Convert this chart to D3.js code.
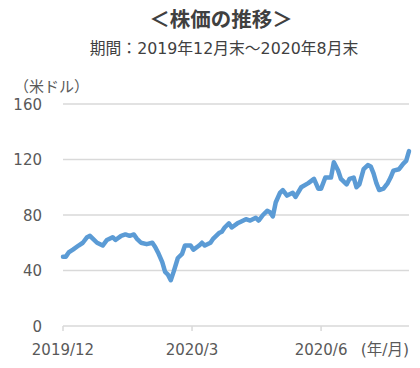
<!DOCTYPE html>
<html><head><meta charset="utf-8">
<script src="https://cdn.jsdelivr.net/npm/d3@7"></script>
<style>
html,body{margin:0;padding:0;background:#fff;}
svg{display:block;}
</style></head>
<body>
<svg id="c" width="420" height="368"></svg>
<script>
const dates = ["2019-12-31","2020-01-02","2020-01-04","2020-01-07","2020-01-11","2020-01-14","2020-01-17","2020-01-19","2020-01-21","2020-01-24","2020-01-28","2020-01-31","2020-02-04","2020-02-06","2020-02-10","2020-02-13","2020-02-16","2020-02-19","2020-02-21","2020-02-24","2020-02-28","2020-03-03","2020-03-05","2020-03-07","2020-03-10","2020-03-12","2020-03-14","2020-03-16","2020-03-18","2020-03-21","2020-03-24","2020-03-26","2020-03-30","2020-04-01","2020-04-05","2020-04-07","2020-04-09","2020-04-13","2020-04-15","2020-04-19","2020-04-21","2020-04-23","2020-04-26","2020-04-28","2020-05-02","2020-05-04","2020-05-08","2020-05-11","2020-05-15","2020-05-17","2020-05-20","2020-05-23","2020-05-25","2020-05-27","2020-05-29","2020-06-01","2020-06-03","2020-06-06","2020-06-10","2020-06-12","2020-06-16","2020-06-21","2020-06-25","2020-06-28","2020-06-30","2020-07-03","2020-07-07","2020-07-09","2020-07-12","2020-07-14","2020-07-18","2020-07-20","2020-07-23","2020-07-25","2020-07-27","2020-07-30","2020-08-02","2020-08-04","2020-08-06","2020-08-08","2020-08-10","2020-08-13","2020-08-16","2020-08-18","2020-08-20","2020-08-24","2020-08-27","2020-08-29","2020-08-31"];
const prices = [50,50,53,55,58,60,64,65,63,60,58,62,64,62,65,66,65,66,63,60,59,60,57,53,46,39,37,33,39,49,52,58,58,55,58,60,58,60,63,67,68,71,74,71,74,75,77,76,78,76,80,83,82,79,89,96,98,94,96,93,100,103,106,99,99,107,107,118,112,106,102,106,107,100,102,113,116,115,110,103,98,99,103,107,112,113,117,119,126];
const yTicks = [0,40,80,120,160];
const xTickDates = ["2019-12-31","2020-03-31","2020-06-30"];
const xTickLabels = ["2019/12","2020/3","2020/6"];
const title = "＜株価の推移＞";
const subtitle = "期間：2019年12月末～2020年8月末";
const yUnit = "（米ドル）";
const xUnit = "(年/月)";

const parse = d3.timeParse("%Y-%m-%d");
const data = dates.map((d,i)=>({date:parse(d), v:prices[i]}));

const svg = d3.select("#c");
const L=63, R=409, T=104, B=326;
const x = d3.scaleTime().domain([parse("2019-12-31"), parse("2020-08-31")]).range([L,R]);
const y = d3.scaleLinear().domain([0,160]).range([B,T]);

const jp = "'Noto Sans CJK JP', sans-serif";
const mix = "'DejaVu Sans', 'Noto Sans CJK JP', sans-serif";
const num = "'DejaVu Sans', sans-serif";

svg.append("text").attr("x",221).attr("y",27).attr("text-anchor","middle")
  .attr("font-family",jp).attr("font-weight","bold").attr("font-size",20.5).attr("fill","#404040").text(title);
svg.append("text").attr("x",224).attr("y",54).attr("text-anchor","middle")
  .attr("font-family",mix).attr("font-size",15.8).attr("fill","#404040").text(subtitle);
svg.append("text").attr("x",14).attr("y",92)
  .attr("font-family",jp).attr("font-size",15).attr("fill","#595959").text(yUnit);

// grid
svg.append("g").selectAll("line").data(yTicks).join("line")
  .attr("x1",L).attr("x2",R).attr("y1",d=>y(d)).attr("y2",d=>y(d))
  .attr("stroke","#d9d9d9").attr("stroke-width",1.5);

// y labels
svg.append("g").selectAll("text").data(yTicks).join("text")
  .attr("x",42).attr("y",d=>y(d)+5.5).attr("text-anchor","end")
  .attr("font-family",num).attr("font-size",15).attr("fill","#595959").text(d=>d);

// x ticks
const xt = xTickDates.map(parse);
svg.append("g").selectAll("line").data(xt).join("line")
  .attr("x1",d=>x(d)).attr("x2",d=>x(d)).attr("y1",B).attr("y2",B+5)
  .attr("stroke","#d9d9d9").attr("stroke-width",1.5);
svg.append("g").selectAll("text").data(xt).join("text")
  .attr("x",d=>x(d)).attr("y",355).attr("text-anchor","middle")
  .attr("font-family",num).attr("font-size",15).attr("fill","#595959").text((d,i)=>xTickLabels[i]);
svg.append("text").attr("x",409).attr("y",355).attr("text-anchor","end")
  .attr("font-family",mix).attr("font-size",15.5).attr("fill","#595959").text(xUnit);

// line
const line = d3.line().x(d=>x(d.date)).y(d=>y(d.v));
svg.append("path").datum(data).attr("d",line).attr("fill","none")
  .attr("stroke","#5b9bd5").attr("stroke-width",4.5).attr("stroke-linejoin","round").attr("stroke-linecap","round");
</script>
</body></html>
